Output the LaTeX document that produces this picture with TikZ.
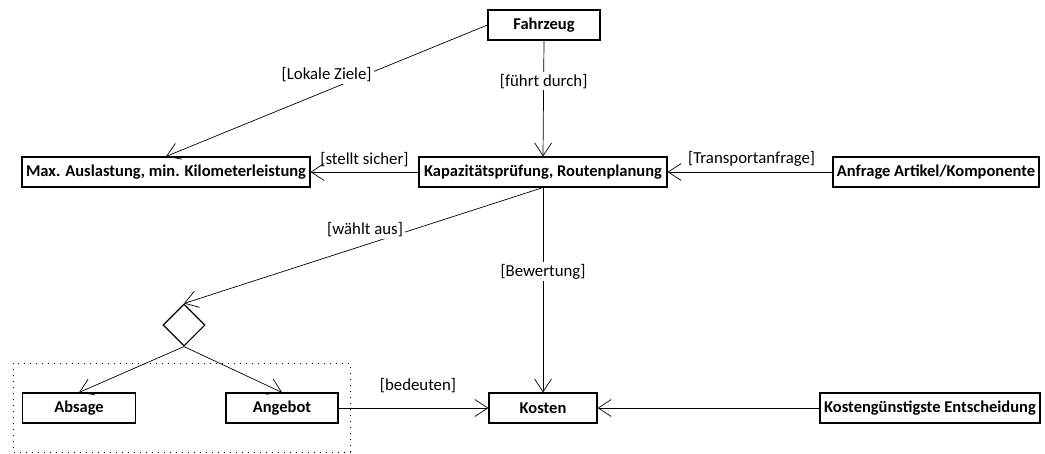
\documentclass[tikz,border=0pt]{standalone}
\usepackage{fontspec}
\setmainfont{Carlito}
\usetikzlibrary{arrows.meta,shapes.geometric}
\begin{document}
\begin{tikzpicture}[x=1pt,y=-1pt,
  box/.style={draw,line width=1.1pt,rectangle,inner sep=0pt,minimum height=30pt,font=\fontsize{16.5}{19}\selectfont\bfseries},
  choice/.style={draw,line width=1.1pt,diamond,inner sep=0pt,minimum width=42pt,minimum height=42pt},
  flow/.style={line width=0.7pt,-{Straight Barb[length=13pt,width=17pt,line width=0.7pt]}},
  lbl/.style={fill=white,inner sep=2pt,font=\fontsize{16.8}{19}\selectfont},
  lblfree/.style={inner sep=1pt,font=\fontsize{16.8}{19}\selectfont}]
\useasboundingbox (0,0) rectangle (1045,453);
% group frame around the two outcomes
\draw[line width=0.8pt,dash pattern=on 1pt off 5pt] (13,363) rectangle (350,452);
% elements
\node[box,minimum width=112pt] (fz) at (544,25) {Fahrzeug};
\node[box,minimum width=288pt] (max) at (166,172) {Max. Auslastung, min. Kilometerleistung};
\node[box,minimum width=248pt] (kap) at (543,172) {Kapazitätsprüfung, Routenplanung};
\node[box,minimum width=206pt] (anf) at (936,172) {Anfrage Artikel/Komponente};
\node[choice] (dec) at (184,325) {};
\node[box,minimum width=113pt] (abs) at (79,408) {Absage};
\node[box,minimum width=112pt] (ang) at (282,408) {Angebot};
\node[box,minimum width=108pt] (kos) at (543,408) {Kosten};
\node[box,minimum width=220pt] (kge) at (930,408) {Kostengünstigste Entscheidung};
% connectors
\draw[flow] (fz.south) -- node[lbl,pos=0.35] {[führt durch]} (kap.north);
\draw[flow] (fz.west) -- node[lbl,pos=0.41,xshift=-29pt,yshift=4pt] {[Lokale Ziele]} (max.north);
\draw[flow] (kap.west) -- node[lblfree,above=4pt,pos=0.5] {[stellt sicher]} (max.east);
\draw[flow] (anf.west) -- node[lblfree,above=4pt,pos=0.49] {[Transportanfrage]} (kap.east);
\draw[flow] (kap.south) -- node[lbl,pos=0.426,xshift=-25pt,yshift=7pt] {[wählt aus]} (dec.north);
\draw[flow] (kap.south) -- node[lbl,pos=0.41] {[Bewertung]} (kos.north);
\draw[flow] (dec.south) -- (abs.north);
\draw[flow] (dec.south) -- (ang.north);
\draw[flow] (ang.east) -- node[lblfree,above=14pt,pos=0.53] {[bedeuten]} (kos.west);
\draw[flow] (kge.west) -- (kos.east);
\end{tikzpicture}
\end{document}
